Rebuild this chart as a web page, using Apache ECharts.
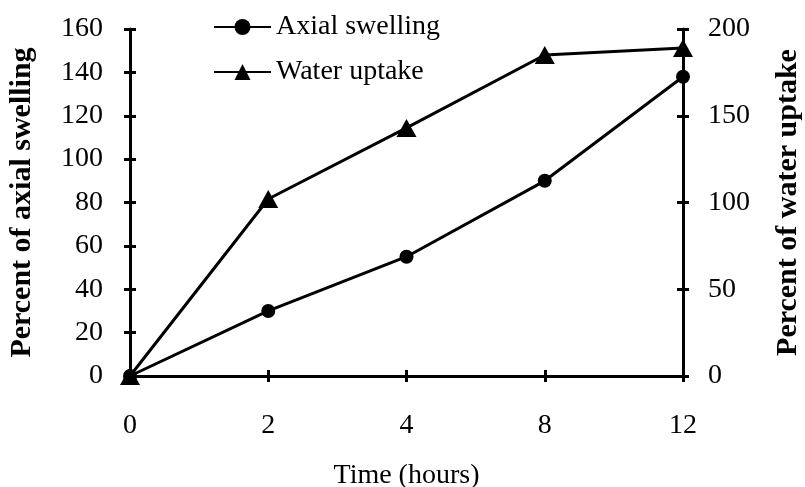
<!DOCTYPE html>
<html>
<head>
<meta charset="utf-8">
<script src="https://cdn.jsdelivr.net/npm/echarts@6/dist/echarts.min.js"></script>
<style>html,body{margin:0;padding:0;background:#fff}#c{width:805px;height:487px}</style>
</head>
<body>
<div id="c"></div>
<script>
var categories = ['0', '2', '4', '8', '12'];
var axialSwelling = [0, 30, 55, 90, 138];
var waterUptake = [0, 102, 143, 185, 189];
var leftTicks = {min: 0, max: 160, interval: 20};
var rightTicks = {min: 0, max: 200, interval: 50};

var FONT = 'Liberation Serif';
var FS = 28;
var chart = echarts.init(document.getElementById('c'), null, {renderer: 'canvas'});
var lineStyle = {color: '#000', width: 3};
var tickOut = {show: true, inside: false, length: 6, lineStyle: {color: '#000', width: 3}};
var tickIn = {show: true, inside: true, length: 6, lineStyle: {color: '#000', width: 3}};

chart.setOption({
  animation: false,
  backgroundColor: '#fff',
  textStyle: {fontFamily: FONT, color: '#000'},
  grid: {left: 130, right: 122, top: 29, bottom: 111, containLabel: false, outerBoundsMode: 'none'},
  legend: {
    orient: 'vertical', left: 208, top: 8,
    itemWidth: 57, itemHeight: 20, itemGap: 17,
    textStyle: {fontFamily: FONT, fontSize: FS, color: '#000'},
    data: ['Axial swelling', 'Water uptake']
  },
  xAxis: [{
    type: 'category', data: categories, boundaryGap: false,
    axisLine: {lineStyle: lineStyle}, axisTick: tickOut,
    axisLabel: {fontFamily: FONT, fontSize: FS, color: '#000', margin: 36},
    splitLine: {show: false},
    name: 'Time (hours)', nameLocation: 'middle', nameGap: 86,
    nameTextStyle: {fontFamily: FONT, fontSize: FS, color: '#000'}
  }, {
    type: 'category', data: categories, boundaryGap: false, position: 'bottom',
    axisLine: {show: false}, axisTick: tickIn, axisLabel: {show: false}, splitLine: {show: false}
  }],
  yAxis: [{
    type: 'value', position: 'left', min: leftTicks.min, max: leftTicks.max, interval: leftTicks.interval,
    axisLine: {show: true, lineStyle: lineStyle}, axisTick: tickOut,
    axisLabel: {fontFamily: FONT, fontSize: FS, color: '#000', margin: 27},
    splitLine: {show: false},
    name: 'Percent of axial swelling', nameLocation: 'middle', nameGap: 93, nameRotate: 90,
    nameTextStyle: {fontFamily: FONT, fontSize: 30, fontWeight: 'bold', color: '#000'}
  }, {
    type: 'value', position: 'right', min: rightTicks.min, max: rightTicks.max, interval: rightTicks.interval,
    axisLine: {show: true, lineStyle: lineStyle}, axisTick: tickOut,
    axisLabel: {fontFamily: FONT, fontSize: FS, color: '#000', margin: 25},
    splitLine: {show: false},
    name: 'Percent of water uptake', nameLocation: 'middle', nameGap: 90, nameRotate: 90,
    nameTextStyle: {fontFamily: FONT, fontSize: 30, fontWeight: 'bold', color: '#000'}
  }, {
    type: 'value', position: 'left', min: leftTicks.min, max: leftTicks.max, interval: leftTicks.interval,
    axisLine: {show: false}, axisTick: tickIn, axisLabel: {show: false}, splitLine: {show: false}
  }, {
    type: 'value', position: 'right', min: rightTicks.min, max: rightTicks.max, interval: rightTicks.interval,
    axisLine: {show: false}, axisTick: tickIn, axisLabel: {show: false}, splitLine: {show: false}
  }],
  series: [{
    name: 'Axial swelling', type: 'line', xAxisIndex: 0, yAxisIndex: 0,
    data: axialSwelling, symbol: 'circle', symbolSize: 14, showAllSymbol: true,
    lineStyle: {color: '#000', width: 3}, itemStyle: {color: '#000'}, z: 5
  }, {
    name: 'Water uptake', type: 'line', xAxisIndex: 0, yAxisIndex: 1,
    data: waterUptake, symbol: 'triangle', symbolSize: [20, 18], showAllSymbol: true,
    lineStyle: {color: '#000', width: 3}, itemStyle: {color: '#000'}, z: 5
  }]
});
</script>
</body>
</html>
